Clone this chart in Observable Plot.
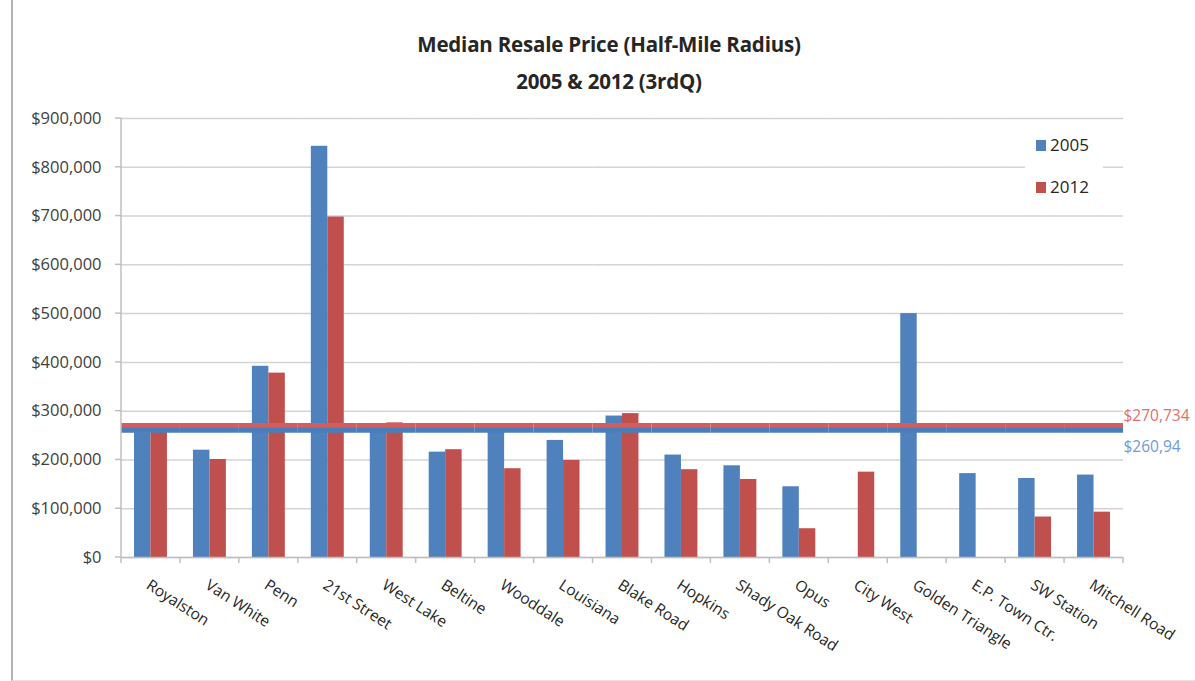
<!DOCTYPE html>
<html><head><meta charset="utf-8">
<script src="https://cdn.jsdelivr.net/npm/d3@7"></script>
<script src="https://cdn.jsdelivr.net/npm/@observablehq/plot@0.6"></script>
<style>
html,body{margin:0;padding:0;background:#fff;}
#wrap{position:relative;width:1195px;height:681px;overflow:hidden;font-family:'Open Sans',sans-serif;}
#frame{position:absolute;left:11px;top:-3px;width:1400px;height:684px;border-left:2px solid #b3b3b3;border-bottom:1px solid #e3e3e3;box-sizing:border-box;}
#title{position:absolute;left:0;top:26px;width:1218px;text-align:center;font-weight:bold;font-size:20.5px;line-height:37px;color:#262626;letter-spacing:-0.2px;}
#chart{position:absolute;left:0;top:0;}
#legend{position:absolute;left:1025px;top:124px;width:78px;height:84px;background:#fff;}
.li{position:absolute;left:11px;font-size:17px;color:#262626;line-height:22px;}
.sw{display:inline-block;width:10px;height:11px;margin-right:4px;vertical-align:0px;}
</style></head>
<body>
<div id="wrap">
  <div id="frame"></div>
  <div id="chart"></div>
  <div id="title">Median Resale Price (Half-Mile Radius)<br>2005 &amp; 2012 (3rdQ)</div>
  <div id="legend"></div>
</div>
<script>
const categories = ["Royalston","Van White","Penn","21st Street","West Lake","Beltine","Wooddale","Louisiana","Blake Road","Hopkins","Shady Oak Road","Opus","City West","Golden Triangle","E.P. Town Ctr.","SW Station","Mitchell Road"];
const price2005 = [256000, 220000, 392000, 843000, 268000, 216000, 258000, 240000, 290000, 210000, 188000, 145000, null, 500000, 172000, 162000, 169000];
const price2012 = [266000, 201000, 378000, 698000, 276000, 221000, 182000, 199000, 295000, 180000, 160000, 59000, 175000, null, null, 83000, 93000];
const years = ["2005", "2012"];
const seriesColors = ["#4f81bd", "#c0504d"];
const avgValues = [260940, 270734];
const avgLabels = ["$260,94", "$270,734"];
const avgLineColors = ["#4a7ebb", "#d25f5d"];
const avgTextColors = ["#6f9bd6", "#de6f6d"];
const yTicks = [0, 100000, 200000, 300000, 400000, 500000, 600000, 700000, 800000, 900000];

const rows = [];
categories.forEach((c, i) => {
  if (price2005[i] != null) rows.push({cat: c, year: years[0], value: price2005[i]});
  if (price2012[i] != null) rows.push({cat: c, year: years[1], value: price2012[i]});
});
const lastCat = categories[categories.length - 1];

const chart = Plot.plot({
  width: 1195, height: 681,
  marginTop: 118, marginBottom: 124, marginLeft: 121, marginRight: 72,
  style: {fontFamily: "'Open Sans', sans-serif", background: "transparent", overflow: "visible"},
  fx: {domain: categories, padding: 0, round: false, label: null},
  x: {domain: years, paddingInner: 0, paddingOuter: 0.79, round: false, axis: null},
  y: {domain: [0, 900000], label: null},
  color: {domain: years, range: seriesColors},
  marks: [
    Plot.gridY(yTicks, {stroke: "#d3d3d3", strokeOpacity: 1, strokeWidth: 1.5}),
    Plot.axisY(yTicks, {tickSize: 0, tickPadding: 20, tickFormat: d3.format("$,"), fontSize: 16.5, fill: "#404040", label: null}),
    Plot.axisFx({anchor: "bottom", tickSize: 0, tickRotate: 33, tickPadding: 26, dx: -3, fontSize: 15.5, fill: "#262626", label: null}),
    Plot.barY(rows, {fx: "cat", x: "year", y: "value", fill: "year"}),
    Plot.ruleY([0], {stroke: "#bfbfbf", strokeWidth: 1.5}),
    Plot.ruleY([avgValues[1]], {stroke: avgLineColors[1], strokeWidth: 5}),
    Plot.ruleY([avgValues[0]], {stroke: avgLineColors[0], strokeWidth: 5}),
    Plot.text([avgValues[1]], {fx: () => lastCat, y: d => d, text: () => avgLabels[1], frameAnchor: "right", textAnchor: "start", dx: 0, dy: -9, fontSize: 15.5, fill: avgTextColors[1]}),
    Plot.text([avgValues[0]], {fx: () => lastCat, y: d => d, text: () => avgLabels[0], frameAnchor: "right", textAnchor: "start", dx: 0, dy: 17, fontSize: 15.5, fill: avgTextColors[0]})
  ]
});
document.getElementById("chart").appendChild(chart);

// Excel-style axis lines & boundary tick marks, positioned with Plot's own scales
const svgEl = chart.tagName.toLowerCase() === "svg" ? chart : chart.querySelector("svg");
const svg = d3.select(svgEl);
const fxs = chart.scale("fx"), ys = chart.scale("y");
const y0 = ys.apply(0), yTop = ys.apply(yTicks[yTicks.length - 1]);
const bounds = categories.map(c => fxs.apply(c));
bounds.push(fxs.apply(lastCat) + fxs.step);
const g = svg.append("g").attr("stroke", "#bfbfbf").attr("stroke-width", 1.5);
bounds.forEach(x => g.append("line").attr("x1", x).attr("x2", x).attr("y1", y0).attr("y2", y0 + 6));
g.append("line").attr("x1", bounds[0]).attr("x2", bounds[0]).attr("y1", yTop).attr("y2", y0);
yTicks.forEach(t => g.append("line").attr("x1", bounds[0] - 6).attr("x2", bounds[0]).attr("y1", ys.apply(t)).attr("y2", ys.apply(t)));

// legend
const legend = document.getElementById("legend");
years.forEach((yr, i) => {
  const d = document.createElement("div");
  d.className = "li";
  d.style.top = (10 + i * 42) + "px";
  d.innerHTML = `<span class="sw" style="background:${seriesColors[i]}"></span>${yr}`;
  legend.appendChild(d);
});
</script>
</body></html>
